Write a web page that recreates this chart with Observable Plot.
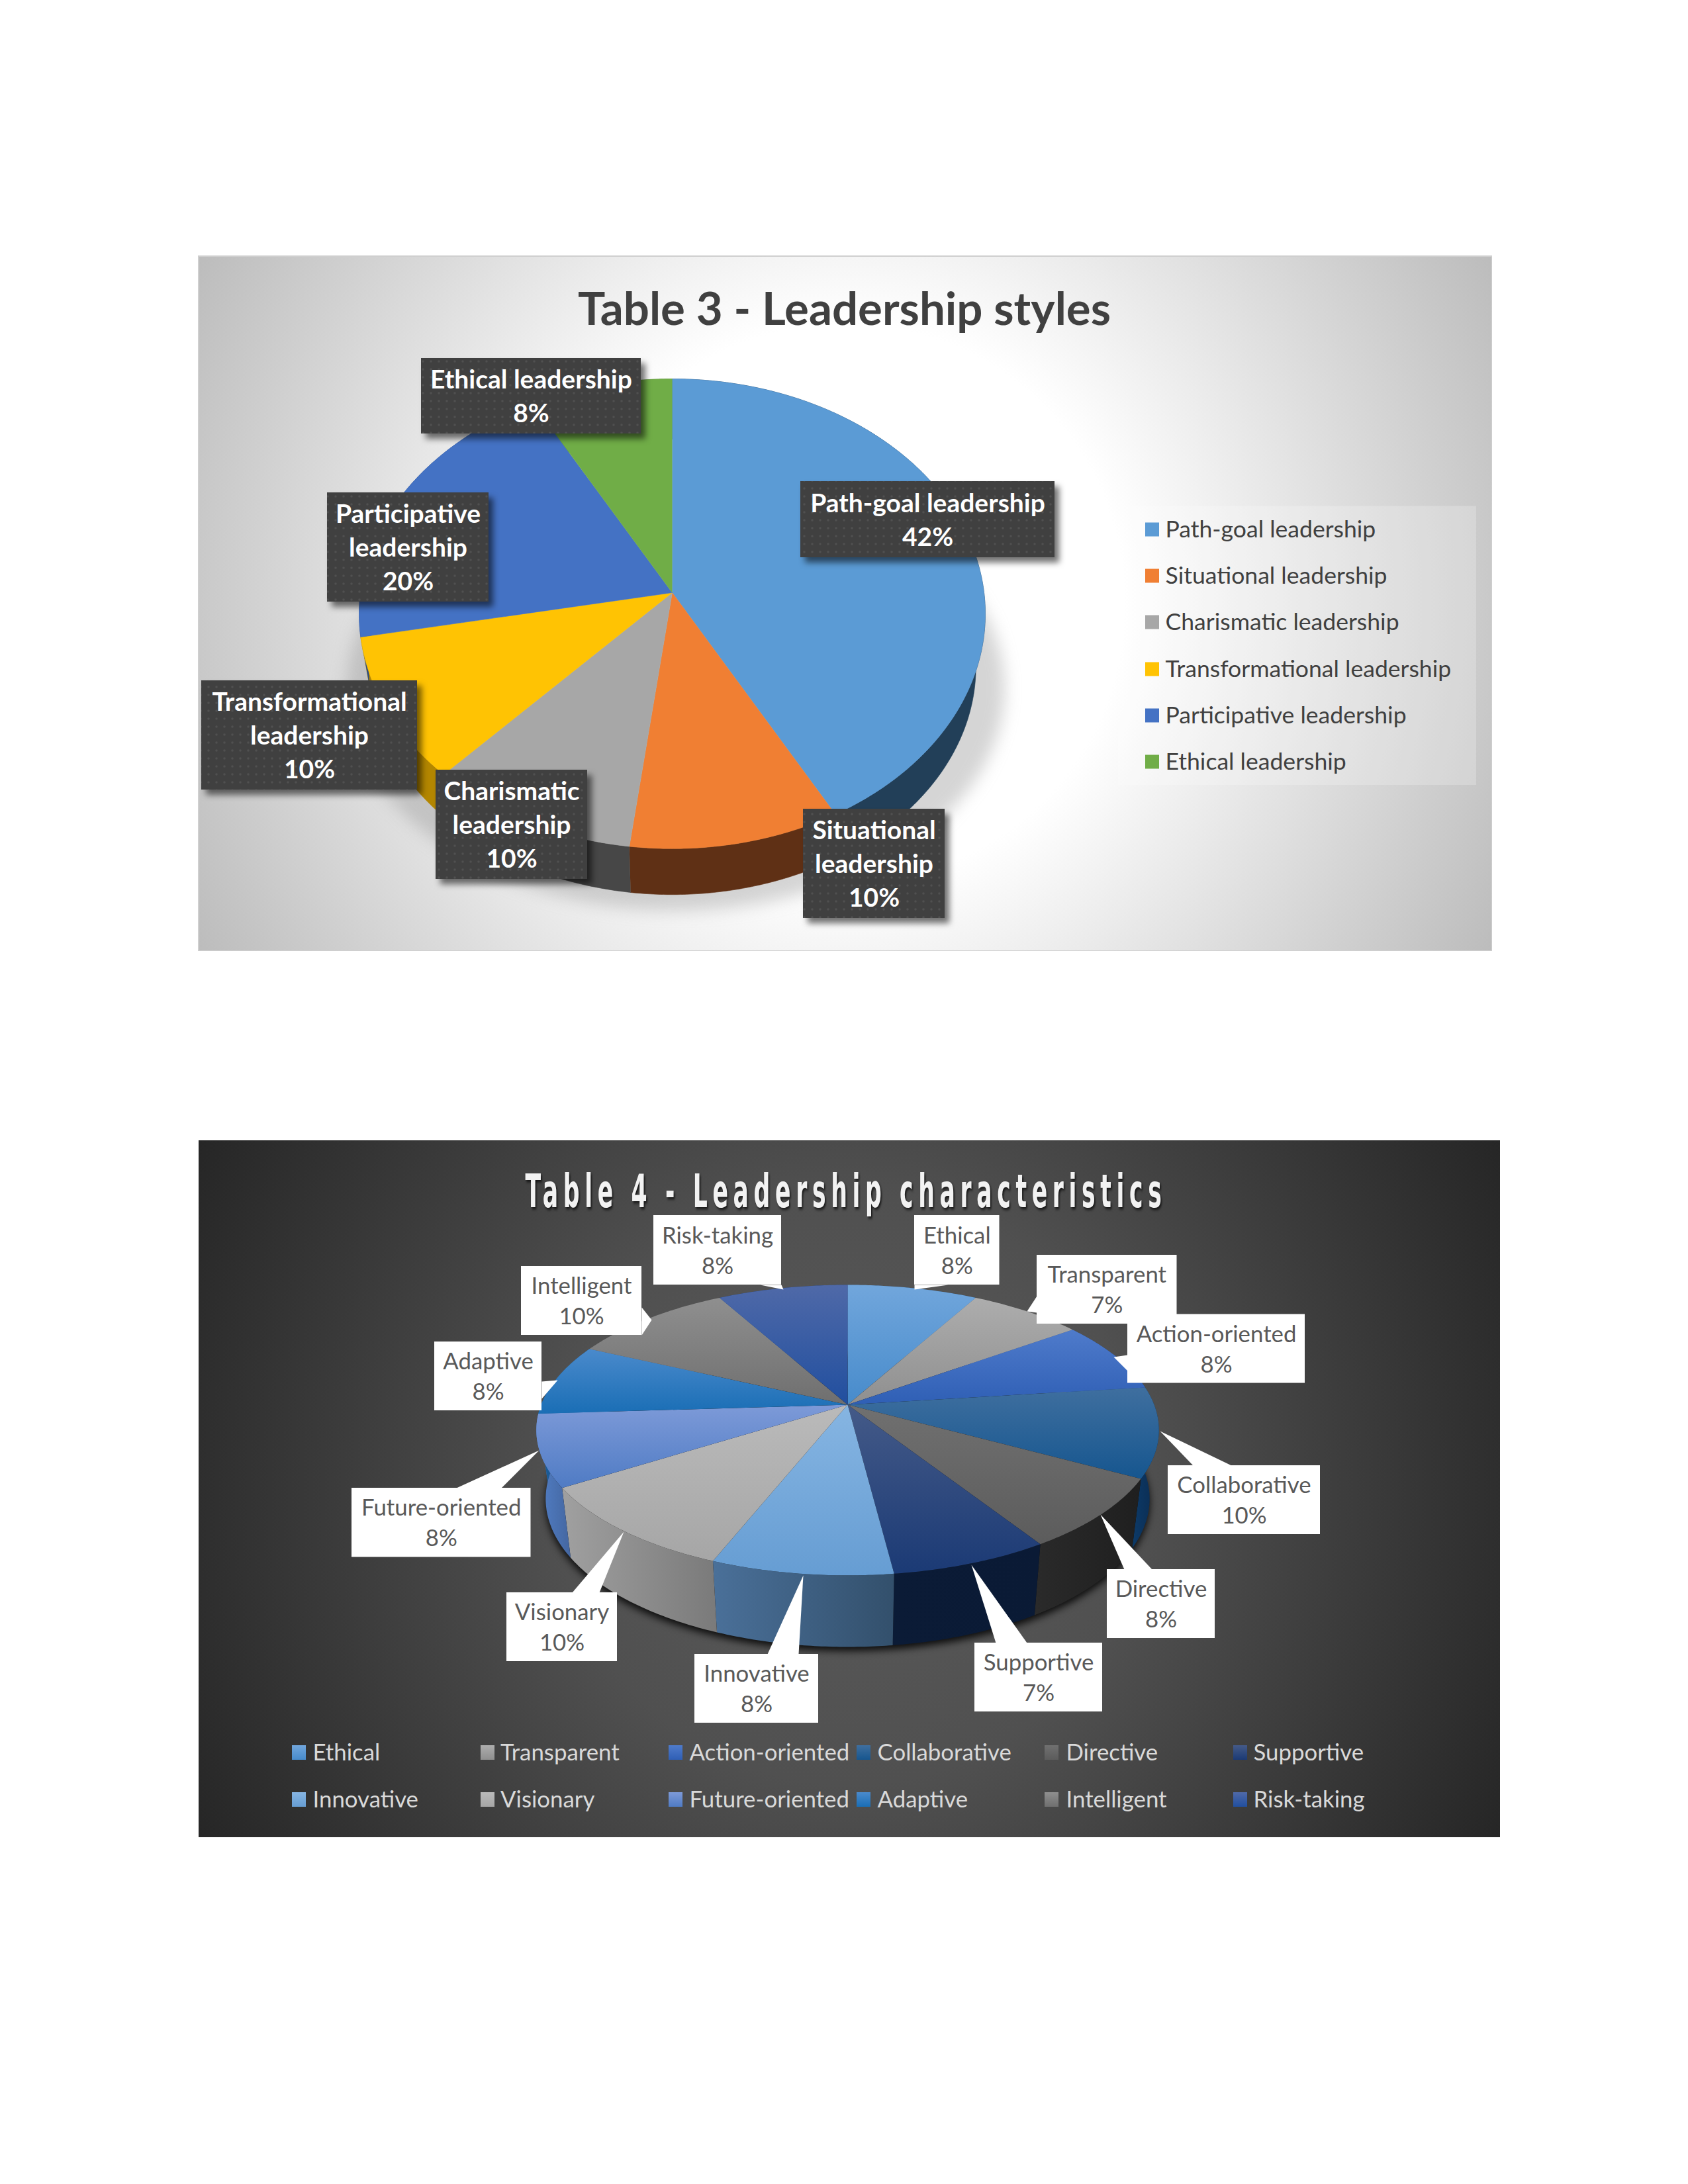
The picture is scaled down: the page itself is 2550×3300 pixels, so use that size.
<!DOCTYPE html>
<html><head><meta charset="utf-8">
<script src="https://cdn.jsdelivr.net/npm/d3@7"></script>
<script src="https://cdn.jsdelivr.net/npm/@observablehq/plot@0.6"></script>
<style>
html,body{margin:0;padding:0;background:#fff;width:2550px;height:3300px;overflow:hidden}
.wrap{position:absolute}
.wrap svg{display:block;max-width:none}
.blur12 {filter:blur(12px)}
.blur6 {filter:blur(6px)}
.boxshadow rect{filter:drop-shadow(7px 8px 5px rgba(0,0,0,.55))}
.tshadow text{filter:drop-shadow(3px 3px 2px rgba(0,0,0,.7));letter-spacing:13.9px}
.tshadow{transform:scaleX(.55);transform-origin:978px 0}
</style></head><body>
<script>
// ---------- Table 3 data ----------
const styleNames = ["Path-goal leadership","Situational leadership","Charismatic leadership","Transformational leadership","Participative leadership","Ethical leadership"];
const styleValues = [42,10,10,10,20,8];
const styleLabelLines = ["Path-goal leadership","Situational\nleadership","Charismatic\nleadership","Transformational\nleadership","Participative\nleadership","Ethical leadership"];
const styleColors = ["#5b9bd5","#f07f33","#a7a7a7","#ffc303","#4472c4","#70ad47"];
const styleSide = ["#223f58","#5f3015","#474747","#b38600","#2a4a85","#44702a"];
const styleBoxes = [[1209,1593,727,842],[1213,1427,1222,1387],[658,887,1163,1328],[304,630,1028,1193],[494,738,744,909],[636,968,541,655]];
const styleLegendY = [800,870,940,1011,1081,1151];

// ---------- Table 4 data ----------
const charNames = ["Ethical","Transparent","Action-oriented","Collaborative","Directive","Supportive","Innovative","Visionary","Future-oriented","Adaptive","Intelligent","Risk-taking"];
const charValues = [8,7,8,10,8,7,8,10,8,8,10,8];
const charTop = [["#71a6dc","#478bcb"],["#adadad","#8f8f8f"],["#4f7bcb","#2f5fb5"],["#3f6f9f","#16568f"],["#707070","#5c5c5c"],["#445a88","#1b3a75"],["#86b5e2","#669dd3"],["#bababa","#a6a6a6"],["#7d9ad8","#4f7bc4"],["#4a8acc","#1a6eb5"],["#8f8f8f","#6f6f6f"],["#4f69a8","#214f9f"]];
const charSide = [["#2f5f8f","#2f5f8f"],["#666","#666"],["#24467f","#24467f"],["#0c3a68","#0b2a4e"],["#2a2a2a","#1f1f1f"],["#0b1b36","#0a1a35"],["#4a7099","#33506c"],["#a0a0a0","#7a7a7a"],["#5280c8","#4466a0"],["#1a5a95","#1a5a95"],["#555","#555"],["#1c3f7c","#1c3f7c"]];
const charBoxes = [[1381,1509.5,1836,1941],[1566,1777.5,1896,2000],[1703,1971,1985.5,2089.5],[1764,1994,2214,2318],[1672,1835,2371,2475],[1472,1665,2482,2586],[1049,1236,2499,2603],[765,932,2406,2510],[531,801.5,2248,2352.5],[656,818,2027,2131],[787,969,1913,2017],[987,1180,1836,1941]];
const charPointers = [
 [[1381,1941],[1381,1948],[1432,1941]],
 [[1566,1958],[1551,1981],[1566,1983]],
 [[1703,2047],[1682,2050],[1703,2071]],
 [[1802,2214],[1752,2162],[1860,2214]],
 [[1698,2371],[1662,2288],[1740,2371]],
 [[1504,2482],[1467,2364],[1551,2482]],
 [[1159,2499],[1213,2380],[1206,2499]],
 [[864,2406],[942,2314],[905,2406]],
 [[689,2248],[814,2191],[757,2248]],
 [[818,2087],[842,2085],[818,2113]],
 [[969,1975],[984,1994],[969,2017]],
 [[1148,1941],[1183,1948],[1180,1941]]
];
const charLegendX = [441,726,1010,1294,1578,1863];
const charLegendTextX = [472,755.5,1041,1325,1610,1893];
const charLegendY = [2648,2719];

// ---------- geometry of the tilted pies ----------
function projector(cx,cy,a,b,k,sx,sy,d){
  const top = t => {const x=Math.sin(t), y=-Math.cos(t), w=1-k*y; return [a*x/w, b*y/w];};
  return {
    top: t => {const [p,q]=top(t); return {x:cx+p,y:cy+q};},
    bottom: t => {const [p,q]=top(t); return {x:cx+sx*p,y:cy+sy*q+d};},
    apex:{x:cx,y:cy}
  };
}
function sweep(s){const n=Math.max(2,Math.ceil((s.endAngle-s.startAngle)/0.01)); return d3.range(n+1).map(i=>s.startAngle+(s.endAngle-s.startAngle)*i/n);}
function topPoly(p,s){return [p.apex,...sweep(s).map(p.top)];}
function sidePoly(p,s){const t=sweep(s);return [...t.map(p.top),...t.slice().reverse().map(p.bottom)];}
function ring(p,fn){return d3.range(0,361,2).map(a=>fn(a*Math.PI/180));}
function polyMark(pts,fill,extra={}){return Plot.line(pts,{x:"x",y:"y",fill,stroke:"none",...extra});}
function place(svg,x,y){const d=document.createElement("div");d.className="wrap";d.style.left=x+"px";d.style.top=y+"px";d.appendChild(svg);document.body.appendChild(d);}

// ---------- Table 3 ----------
{
  const X0=299,X1=2254,Y0=386,Y1=1437;
  const p=projector(1015,895,471,352,0.09,0.97,0.97,81);
  const arcs=d3.pie().sort(null).value(d=>d)(styleValues);
  const boxes=styleBoxes.map((b,i)=>({x1:b[0],x2:b[1],y1:b[2],y2:b[3],cx:(b[0]+b[1])/2,cy:(b[2]+b[3])/2-2,text:`${styleLabelLines[i]}\n${styleValues[i]}%`}));
  const legend=styleNames.map((n,i)=>({n,i,y:styleLegendY[i]}));
  const shadow=d3.range(0,361,2).map(a=>({x:1020+497*Math.cos(a*Math.PI/180),y:1040+335*Math.sin(a*Math.PI/180)}));
  const svg=Plot.plot({
    width:X1-X0,height:Y1-Y0,margin:0,
    x:{domain:[X0,X1],range:[0,X1-X0],axis:null},
    y:{domain:[Y0,Y1],range:[0,Y1-Y0],axis:null},
    style:{background:"radial-gradient(circle farthest-corner at center,#fff 38%,#bcbcbc 100%)",fontFamily:"Lato"},
    marks:[
      ()=>{const defs=d3.create("svg:defs");
        const pat=defs.append("pattern").attr("id","dots").attr("width",12).attr("height",12).attr("patternUnits","userSpaceOnUse");
        pat.append("rect").attr("width",12).attr("height",12).attr("fill","#404040");
        pat.append("circle").attr("cx",4).attr("cy",4).attr("r",1.7).attr("fill","#505050");
        return defs.node();},
      polyMark(shadow,"#8a8a8a",{className:"blur12",fillOpacity:0.36}),
      ...arcs.map((s,i)=>polyMark(sidePoly(p,s),styleSide[i],{stroke:styleSide[i],strokeWidth:0.6})),
      ...arcs.map((s,i)=>polyMark(topPoly(p,s),styleColors[i],{stroke:styleColors[i],strokeWidth:0.6})),
      Plot.text(["Table 3 - Leadership styles"],{x:()=>1275,y:()=>468,text:d=>d,fontSize:69,fontWeight:700,fill:"#404040",fontFamily:"Lato"}),
      Plot.rect([0],{x1:()=>1689,x2:()=>2230,y1:()=>764.5,y2:()=>1186,fill:"#fff",fillOpacity:0.22}),
      Plot.rect(legend,{x1:()=>1730,x2:()=>1751,y1:d=>d.y-10.5,y2:d=>d.y+10.5,fill:d=>styleColors[d.i]}),
      Plot.text(legend,{x:()=>1760,y:"y",text:"n",textAnchor:"start",fontSize:35.6,fill:"#404040",fontFamily:"Lato"}),
      Plot.rect(boxes,{x1:"x1",x2:"x2",y1:"y1",y2:"y2",fill:"url(#dots)",className:"boxshadow"}),
      Plot.text(boxes,{x:d=>d.cx,y:d=>d.cy,text:"text",fontSize:39,lineHeight:51/39,fontWeight:700,fill:"#fff",fontFamily:"Lato"}),
      Plot.frame({stroke:"#cfcfcf",strokeWidth:3})
    ]
  });
  place(svg,X0,Y0);
}

// ---------- Table 4 ----------
{
  const X0=300,X1=2266,Y0=1723,Y1=2776;
  const p=projector(1280,2122,463,212.7,0.175,0.97,1.02,103);
  const arcs=d3.pie().sort(null).value(d=>d)(charValues);
  const boxes=charBoxes.map((b,i)=>({x1:b[0],x2:b[1],y1:b[2],y2:b[3],cx:(b[0]+b[1])/2,cy:(b[2]+b[3])/2-2,text:`${charNames[i]}\n${charValues[i]}%`}));
  const legend=charNames.map((n,i)=>({n,i,col:i%6,row:Math.floor(i/6)}));
  const svg=Plot.plot({
    width:X1-X0,height:Y1-Y0,margin:0,
    x:{domain:[X0,X1],range:[0,X1-X0],axis:null},
    y:{domain:[Y0,Y1],range:[0,Y1-Y0],axis:null},
    style:{background:"radial-gradient(circle farthest-corner at center,#5b5b5b 0%,#505050 40%,#262626 100%)",fontFamily:"Lato"},
    marks:[
      ()=>{const defs=d3.create("svg:defs");
        charTop.forEach((c,i)=>{const g=defs.append("linearGradient").attr("id","ct"+i).attr("x1",0).attr("y1",0).attr("x2",0).attr("y2",1);
          g.append("stop").attr("offset",0).attr("stop-color",c[0]);g.append("stop").attr("offset",1).attr("stop-color",c[1]);});
        charSide.forEach((c,i)=>{const g=defs.append("linearGradient").attr("id","cs"+i).attr("x1",0).attr("y1",0).attr("x2",1).attr("y2",0);
          g.append("stop").attr("offset",0).attr("stop-color",c[0]);g.append("stop").attr("offset",1).attr("stop-color",c[1]);});
        return defs.node();},
      polyMark(ring(p,t=>{const b=p.bottom(t);return {x:b.x,y:b.y+6};}),"#000",{className:"blur6",fillOpacity:0.85}),
      ...arcs.map((s,i)=>polyMark(sidePoly(p,s),`url(#cs${i})`)),
      ...arcs.map((s,i)=>polyMark(topPoly(p,s),`url(#ct${i})`)),
      Plot.text(["Table 4 - Leadership characteristics"],{x:()=>1278,y:()=>1802,text:d=>d,fontSize:70,fontWeight:700,fill:"#f2f2f2",fontFamily:"'DejaVu Sans Condensed','DejaVu Sans'",className:"tshadow"}),
      ...charPointers.map(t=>polyMark(t.map(([x,y])=>({x,y})),"#fff")),
      Plot.rect(boxes,{x1:"x1",x2:"x2",y1:"y1",y2:"y2",fill:"#fff"}),
      Plot.text(boxes,{x:d=>d.cx,y:d=>d.cy,text:"text",fontSize:34.8,lineHeight:46/34.8,fill:"#595959",fontFamily:"Lato"}),
      Plot.rect(legend,{x1:d=>charLegendX[d.col],x2:d=>charLegendX[d.col]+21,y1:d=>charLegendY[d.row]-11,y2:d=>charLegendY[d.row]+11,fill:d=>`url(#ct${d.i})`}),
      Plot.text(legend,{x:d=>charLegendTextX[d.col],y:d=>charLegendY[d.row],text:"n",textAnchor:"start",fontSize:34.8,fill:"#d9d9d9",fontFamily:"Lato"})
    ]
  });
  place(svg,X0,Y0);
}
</script>
</body></html>
